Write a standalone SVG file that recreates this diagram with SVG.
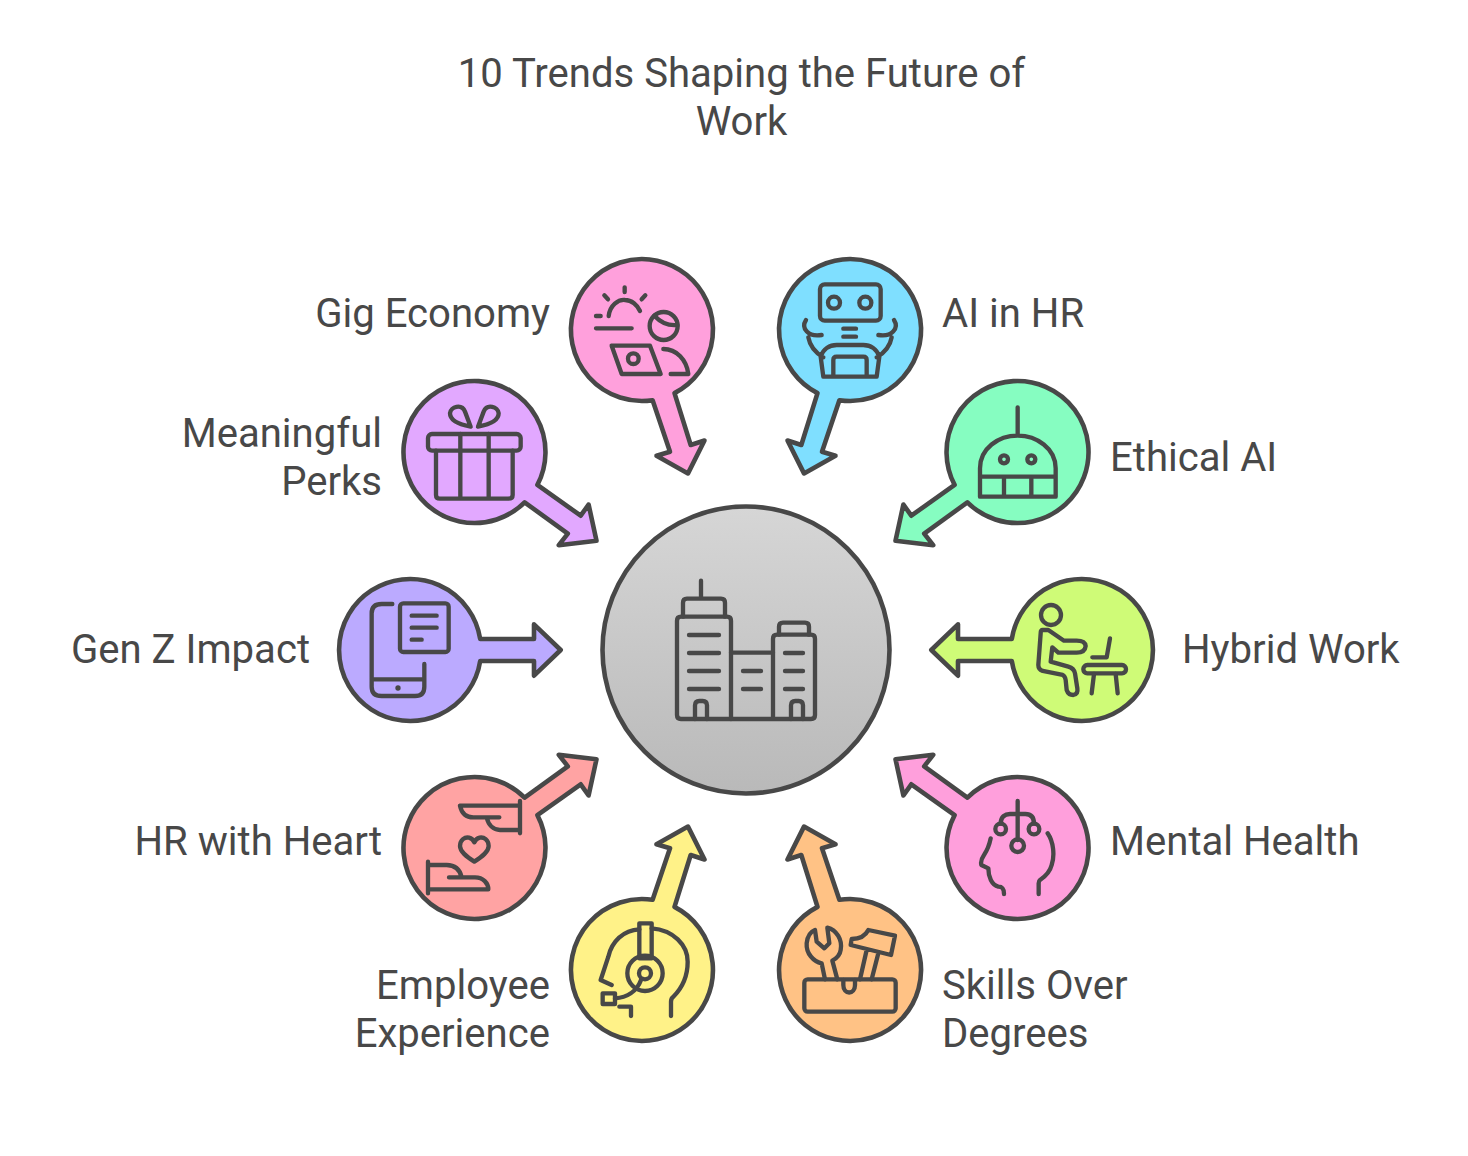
<svg xmlns="http://www.w3.org/2000/svg" width="1468" height="1156" viewBox="0 0 1468 1156">
<style>
text{font-family:Roboto,"Liberation Sans",sans-serif;font-size:40.100px;fill:#484848}
.e{text-anchor:end}.m{text-anchor:middle}
.b{stroke:#484848;stroke-width:4.600;stroke-linejoin:round}
.i{fill:none;stroke:#484848;stroke-width:13;stroke-linecap:round;stroke-linejoin:round}
.d{fill:#484848;stroke:none}
</style>
<defs><linearGradient id="g" x1="0" y1="0" x2="0" y2="1"><stop offset="0" stop-color="#d6d6d6"/><stop offset="1" stop-color="#b9b9b9"/></linearGradient></defs>
<rect width="1468" height="1156" fill="#fff"/>
<g id="title"><text class="m" x="741.500" y="87">10 Trends Shaping the Future of</text><text class="m" x="741.500" y="135">Work</text></g>
<g id="connectors"></g>
<g id="center"><circle class="b" cx="746" cy="650" r="143.500" fill="url(#g)"/>
<g class="i" transform="translate(650 560) scale(.33333)"><path d="M153 62V115M99 170V128Q99 116 111 116H213Q225 116 225 128V170M243 278H369M387 224V200Q387 188 399 188H465Q477 188 477 200V224"/><path d="M93 170H231Q243 170 243 182V477H93Q81 477 81 465V182Q81 170 93 170Z"/><path d="M243 477H369V236Q369 224 381 224H483Q495 224 495 236V465Q495 477 483 477H369"/><path d="M117 225H207M117 279H207M117 333H207M117 387H207M279 333H333M279 387H333M405 279H459M405 333H459M405 387H459"/><path d="M135 477V436Q135 423 148 423H158Q171 423 171 436V477M423 477V436Q423 423 436 423H446Q459 423 459 436V477"/></g></g>
<g id="gig-economy"><path class="b" fill="#ffa0dc" d="M652.600 400.200L670 451.700L656.500 455.800L688 473.400L704.500 440.500L690.700 445L674.500 393.100A71 71 0 1 0 652.600 400.200Z"/>
<g class="i" transform="translate(560 250) scale(.33333)"><path d="M146 198C150 165 175 148 195 150C215 150 232 165 240 183M194 112V126M133 136L144 148M256 136L245 148M108 198H122M108 235H215"/><circle cx="311" cy="228" r="42"/><path d="M283 197C300 215 325 228 352 225M155 287H270L302 372H185ZM310 297C350 297 380 330 385 372H332"/><circle cx="220" cy="326" r="16"/></g>
<text class="e" x="550" y="327">Gig Economy</text></g>
<g id="ai-in-hr"><path class="b" fill="#7fdfff" d="M839.400 400.200L822 451.700L835.500 455.800L804 473.400L787.500 440.500L801.300 445L817.500 393.100A71 71 0 1 1 839.400 400.200Z"/>
<g class="i" transform="translate(560 250) scale(.33333)"><rect x="780" y="103" width="182" height="109" rx="14"/><circle cx="822" cy="158" r="18"/><circle cx="916" cy="158" r="18"/><path d="M850 236H888M850 260H888M738 210C722 235 745 262 785 255M745 262C750 290 770 310 790 322M1002 210C1018 235 995 262 955 255M995 262C990 290 970 310 950 322M790 380L782 320C790 295 810 285 830 285H910C930 285 950 295 958 320L950 380ZM820 380V330Q820 320 830 320H910Q920 320 920 330V380"/></g>
<text x="942" y="327">AI in HR</text></g>
<g id="meaningful-perks"><path class="b" fill="#e2a8ff" d="M524.600 502.300L567.800 533.700L558.800 545.200L596.500 540.800L588.600 504.500L580.700 515.700L537.400 484.900A71 71 0 1 0 524.600 502.300Z"/>
<g class="i" transform="translate(390 370) scale(.33333)"><path d="M242 170C215 165 180 155 180 130C182 110 215 100 225 125ZM264 170C291 165 326 155 326 130C324 110 291 100 281 125Z"/><rect x="114" y="192" width="278" height="50" rx="12"/><path d="M138 242V375Q138 386 150 386H355Q368 386 368 375V242M211 192V386M296 192V386"/></g>
<text class="e" x="382" y="447">Meaningful</text><text class="e" x="382" y="495">Perks</text></g>
<g id="ethical-ai"><path class="b" fill="#86fdc1" d="M967.400 502.300L924.200 533.700L933.200 545.200L895.500 540.800L903.400 504.500L911.300 515.700L954.600 484.900A71 71 0 1 1 967.400 502.300Z"/>
<g class="i" transform="translate(880 370) scale(.33333)"><path d="M413 112V195M300 380V295C300 235 355 197 413 197C470 197 527 235 527 295V380ZM300 320H527M372 320V380M454 320V380"/><circle cx="372" cy="268" r="12"/><circle cx="454" cy="268" r="12"/></g>
<text x="1110" y="471">Ethical AI</text></g>
<g id="gen-z-impact"><path class="b" fill="#bbaaff" d="M480.200 639L534 639L534 624.300L560.700 650L534 675.700L534 661L480.200 661A71 71 0 1 1 480.200 639Z"/>
<g class="i" transform="translate(330 570) scale(.33333)"><path d="M187 102H155Q125 102 125 130V350Q125 378 155 378H255Q283 378 283 350V282M125 328H283"/><rect x="210" y="100" width="146" height="146" rx="10"/><path d="M245 137H320M245 173H320M245 209H275"/><circle class="d" cx="204" cy="354" r="8"/></g>
<text class="e" x="310" y="663">Gen Z Impact</text></g>
<g id="hybrid-work"><path class="b" fill="#cffb77" d="M1011.800 639L958 639L958 624.300L931.300 650L958 675.700L958 661L1011.800 661A71 71 0 1 0 1011.800 639Z"/>
<g class="i" transform="translate(920 570) scale(.33333)"><circle cx="393" cy="135" r="30"/><path d="M385 180H368Q362 180 362 190L355 285Q355 298 368 303L428 315Q435 318 437 330L440 360Q445 375 460 375Q475 372 472 355L465 310Q462 295 445 290L392 275L397 232L415 248H470Q495 248 497 228Q495 212 470 212H432ZM570 205L560 262H517"/><rect x="490" y="285" width="128" height="25" rx="12"/><path d="M522 312L515 370M587 312L593 370"/></g>
<text x="1182" y="663">Hybrid Work</text></g>
<g id="hr-with-heart"><path class="b" fill="#ffa3a3" d="M524.600 797.700L567.800 766.300L558.800 754.800L596.500 759.200L588.600 795.500L580.700 784.300L537.400 815.100A71 71 0 1 1 524.600 797.700Z"/>
<g class="i" transform="translate(390 745) scale(.33333)"><path d="M390 168V265M210 182H390M210 182C215 205 230 217 250 217H328M290 217C295 240 310 255 330 255H390M253 350C230 335 210 320 210 303C210 285 225 275 237 278C245 280 250 285 253 292C256 285 261 280 269 278C281 275 296 285 296 303C296 320 276 335 253 350ZM114 350V445M114 433H295C295 415 280 397 255 397H177M114 360H170C195 360 210 375 215 397"/></g>
<text class="e" x="382" y="855">HR with Heart</text></g>
<g id="mental-health"><path class="b" fill="#ff9fdc" d="M967.400 797.700L924.200 766.300L933.200 754.800L895.500 759.200L903.400 795.500L911.300 784.300L954.600 815.100A71 71 0 1 0 967.400 797.700Z"/>
<g class="i" transform="translate(880 745) scale(.33333)"><path d="M413 168V285M362 236C362 215 375 207 390 207H436C451 207 462 215 462 236"/><circle cx="413" cy="302" r="19"/><circle cx="362" cy="252" r="16"/><circle cx="462" cy="252" r="16"/><path d="M332 280C328 300 322 315 312 330C305 340 302 352 304 360L325 370C325 395 335 420 355 425C365 425 372 428 372 447M503 265C520 290 525 330 515 360C510 380 495 395 480 405Q476 408 476 415V447"/></g>
<text x="1110" y="855">Mental Health</text></g>
<g id="employee-experience"><path class="b" fill="#fff288" d="M652.600 899.800L670 848.300L656.500 844.200L688 826.600L704.500 859.500L690.700 855L674.500 906.900A71 71 0 1 1 652.600 899.800Z"/>
<g class="i" transform="translate(560 815) scale(.33333)"><rect x="238" y="325" width="37" height="105"/><circle cx="255" cy="475" r="53"/><circle cx="255" cy="475" r="18"/><path d="M238 343C190 345 155 380 145 425L122 495L155 510M275 340C340 345 383 390 383 440C383 490 360 525 340 545Q333 550 333 560V603"/><rect x="128" y="535" width="37" height="32"/><path d="M165 550C200 548 230 530 243 495M178 575H213V603"/></g>
<text class="e" x="550" y="999">Employee</text><text class="e" x="550" y="1047">Experience</text></g>
<g id="skills-over-degrees"><path class="b" fill="#ffc285" d="M839.400 899.800L822 848.300L835.500 844.200L804 826.600L787.500 859.500L801.300 855L817.500 906.900A71 71 0 1 0 839.400 899.800Z"/>
<g class="i" transform="translate(770 815) scale(.33333)"><rect x="103" y="493" width="274" height="97" rx="10"/><path d="M220 495V510C220 540 255 540 255 510V495M165 493L155 445C130 440 108 415 110 385C112 365 122 350 135 345L140 380L163 400L178 385L172 338C200 345 218 375 212 405C210 420 200 430 187 437L202 493M295 345L375 362L363 420L242 390L245 372C265 372 285 365 295 345ZM290 405L270 493M325 415L305 493"/></g>
<text x="942" y="999">Skills Over</text><text x="942" y="1047">Degrees</text></g>
</svg>
